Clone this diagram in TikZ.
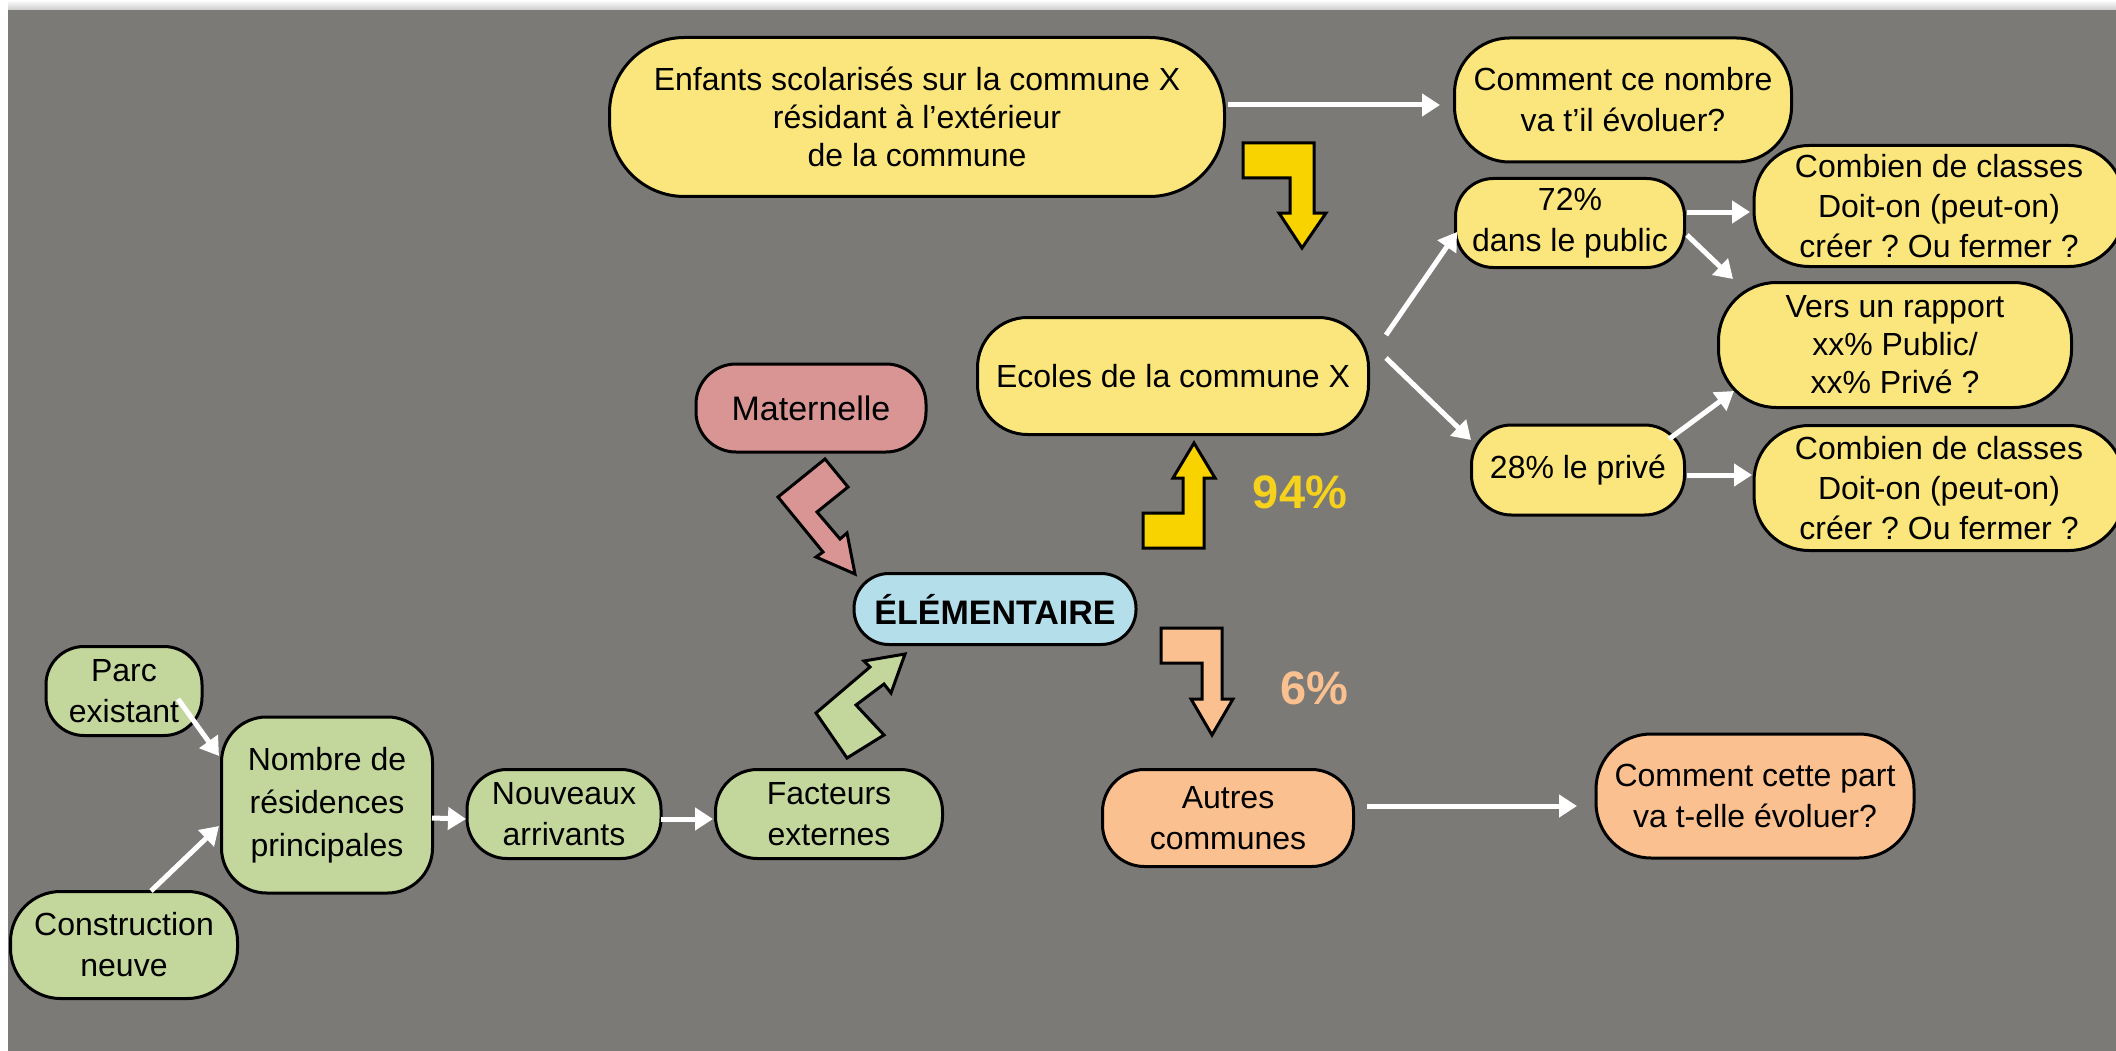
\documentclass[tikz,border=0pt]{standalone}
\usepackage{fontspec}
\setmainfont{Liberation Sans}
\usetikzlibrary{arrows.meta,calc}
\frenchspacing
\definecolor{bggray}{HTML}{7B7A77}
\definecolor{ylight}{HTML}{FBE67D}
\definecolor{gfill}{HTML}{C3D69B}
\definecolor{pfill}{HTML}{D99594}
\definecolor{bfill}{HTML}{B4DEEA}
\definecolor{ofill}{HTML}{FAC090}
\definecolor{gold}{HTML}{F8D300}
\definecolor{goldtxt}{HTML}{F6D21C}
\begin{document}
\begin{tikzpicture}[x=1pt,y=-1pt,
  box/.style={draw=black, line width=3pt, align=center, inner sep=0pt,
    font=\fontsize{32}{41}\selectfont},
  conn/.style={draw=white, line width=5pt, -{Triangle[length=18pt,width=22pt]}},
  bentarrow/.style={draw=black, line width=3pt, line join=miter},
  pct/.style={font=\fontsize{47}{50}\selectfont\bfseries}
  ]
% background
\useasboundingbox (0,0) rectangle (2116,1051);
\fill[white] (0,0) rectangle (2116,1051);
\shade[top color=white, bottom color=gray!40] (8,0) rectangle (2116,10);
\fill[bggray] (8,10) rectangle (2116,1051);

% top-right nodes
\node[box, fill=ylight, minimum width=615pt, minimum height=159pt, rounded corners=75pt,
  font=\fontsize{32}{38}\selectfont] (enf) at (917,117)
  {Enfants scolarisés sur la commune X\\résidant à l’extérieur\\de la commune};
\node[box, fill=ylight, minimum width=337pt, minimum height=124pt, rounded corners=55pt] (cnom) at (1623,100)
  {Comment ce nombre\\va t’il évoluer?};
\node[box, fill=ylight, minimum width=229pt, minimum height=89pt, rounded corners=38pt] (pub) at (1570,223)
  {72\%\\dans le public};
\node[box, fill=ylight, minimum width=370pt, minimum height=121pt, rounded corners=55pt,
  font=\fontsize{32}{40}\selectfont] (comb1) at (1939,206)
  {Combien de classes\\Doit-on (peut-on)\\créer ? Ou fermer ?};
\node[box, fill=ylight, minimum width=353pt, minimum height=125pt, rounded corners=58pt,
  font=\fontsize{32}{38}\selectfont] (vers) at (1895,345)
  {Vers un rapport\\xx\% Public/\\xx\% Privé ?};
\node[box, fill=ylight, minimum width=370pt, minimum height=125pt, rounded corners=55pt,
  font=\fontsize{32}{40}\selectfont] (comb2) at (1939,488)
  {Combien de classes\\Doit-on (peut-on)\\créer ? Ou fermer ?};
\node[box, fill=ylight, minimum width=213pt, minimum height=90pt, rounded corners=40pt] (priv) at (1578,470)
  {28\% le privé};
\node[box, fill=ylight, minimum width=391pt, minimum height=117pt, rounded corners=50pt] (ecoles) at (1173,376)
  {Ecoles de la commune X};

% middle nodes
\node[box, fill=pfill, minimum width=230pt, minimum height=88pt, rounded corners=40pt,
  font=\fontsize{34}{41}\selectfont] (mat) at (811,408) {Maternelle};
\node[box, fill=bfill, minimum width=282pt, minimum height=71pt, rounded corners=35pt,
  font=\fontsize{34}{41}\selectfont\bfseries] (elem) at (995,609) {ÉLÉMENTAIRE};

% bottom-left nodes
\node[box, fill=gfill, minimum width=156pt, minimum height=89pt, rounded corners=38pt] (parc) at (124,691)
  {Parc\\existant};
\node[box, fill=gfill, minimum width=211pt, minimum height=176pt, rounded corners=45pt,
  font=\fontsize{32}{43}\selectfont] (nombre) at (327,805)
  {Nombre de\\résidences\\principales};
\node[box, fill=gfill, minimum width=227pt, minimum height=107pt, rounded corners=50pt] (constr) at (124,945)
  {Construction\\neuve};
\node[box, fill=gfill, minimum width=194pt, minimum height=89pt, rounded corners=40pt] (nouv) at (564,814)
  {Nouveaux\\arrivants};
\node[box, fill=gfill, minimum width=227pt, minimum height=89pt, rounded corners=42pt] (fact) at (829,814)
  {Facteurs\\externes};

% bottom-right nodes
\node[box, fill=ofill, minimum width=251pt, minimum height=97pt, rounded corners=42pt] (autres) at (1228,818)
  {Autres\\communes};
\node[box, fill=ofill, minimum width=318pt, minimum height=124pt, rounded corners=55pt] (cpart) at (1755,796)
  {Comment cette part\\va t-elle évoluer?};

% white connectors
\draw[conn] ($(enf)+(311,-12)$) -- ($(cnom)+(-183,5)$);
\draw[conn] ($(pub)+(117,-11)$) -- ($(comb1)+(-189,6)$);
\draw[conn] ($(pub)+(117,12)$) -- ($(vers)+(-162,-66)$);
\draw[conn] ($(ecoles)+(213,-41)$) -- ($(pub)+(-113,9)$);
\draw[conn] ($(ecoles)+(213,-18)$) -- ($(priv)+(-107,-30)$);
\draw[conn] ($(priv)+(91,-31)$) -- ($(vers)+(-161,46)$);
\draw[conn] ($(priv)+(109,5)$) -- ($(comb2)+(-187,-13)$);
\draw[conn] ($(parc)+(54,8)$) -- ($(nombre)+(-108,-49)$);
\draw[conn] ($(constr)+(27,-54)$) -- ($(nombre)+(-108,21)$);
\draw[conn] ($(nombre)+(105,13)$) -- ($(nouv)+(-98,5)$);
\draw[conn] ($(nouv)+(97,5)$) -- ($(fact)+(-116,5)$);
\draw[conn] ($(autres)+(139,-12)$) -- ($(cpart)+(-178,10)$);

% bent block arrows
\filldraw[bentarrow, fill=gold] (1243,143) -- (1314,143) -- (1314,213) -- (1326,213) -- (1302,248)
  -- (1279,213) -- (1290,213) -- (1290,178) -- (1243,178) -- cycle;
\filldraw[bentarrow, fill=gold] (1143,548) -- (1204,548) -- (1204,478) -- (1215,478) -- (1194,443)
  -- (1173,478) -- (1183,478) -- (1183,513) -- (1143,513) -- cycle;
\filldraw[bentarrow, fill=ofill] (1161,628) -- (1222,628) -- (1222,699) -- (1233,699) -- (1212,735)
  -- (1191,699) -- (1202,699) -- (1202,663) -- (1161,663) -- cycle;
\filldraw[bentarrow, fill=pfill] (825,459) -- (848,487) -- (817,512) -- (840,539) -- (847,533)
  -- (855,574) -- (816,557) -- (823,552) -- (778,497) -- cycle;
\filldraw[bentarrow, fill=gfill] (905,654) -- (891,693) -- (884,684) -- (856,705) -- (884,735)
  -- (847,758) -- (816,713) -- (870,667) -- (864,661) -- cycle;

% percentages
\node[pct, text=goldtxt] (p94) at (1300,492) {94\%};
\node[pct, text=ofill] (p6) at (1314,688) {6\%};
\end{tikzpicture}
\end{document}
